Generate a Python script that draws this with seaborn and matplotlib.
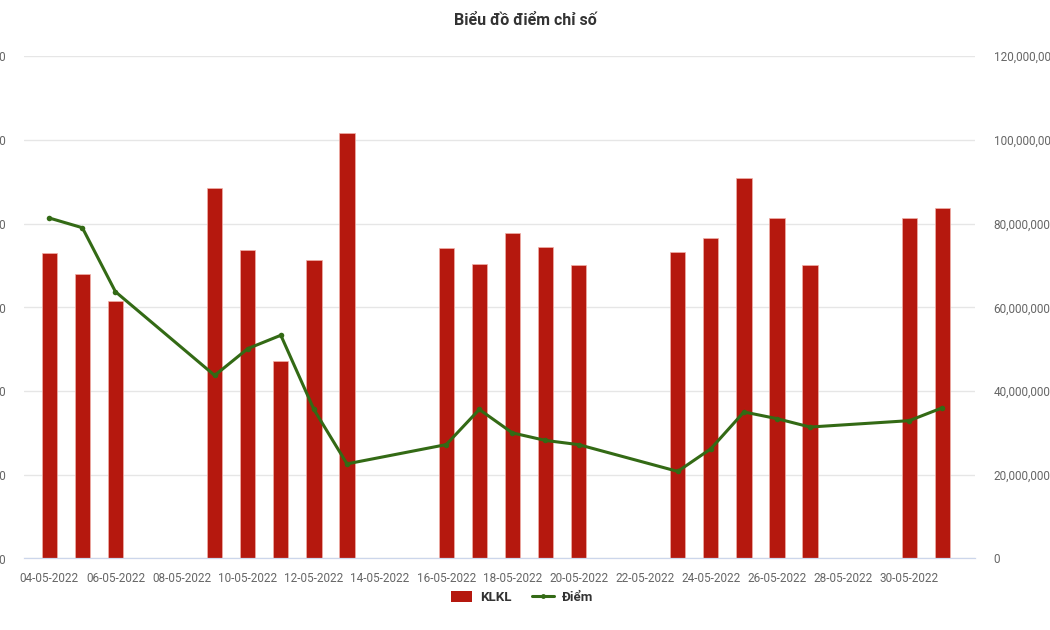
import matplotlib
matplotlib.use("Agg")
import matplotlib.pyplot as plt
import matplotlib.dates as mdates
from matplotlib.ticker import FuncFormatter
from matplotlib.lines import Line2D
from matplotlib.patches import Patch
import pandas as pd
import seaborn as sns

# Data
dates = ['04-05-2022', '05-05-2022', '06-05-2022', '09-05-2022', '10-05-2022',
         '11-05-2022', '12-05-2022', '13-05-2022', '16-05-2022', '17-05-2022',
         '18-05-2022', '19-05-2022', '20-05-2022', '23-05-2022', '24-05-2022',
         '25-05-2022', '26-05-2022', '27-05-2022', '30-05-2022', '31-05-2022']
klkl = [72.9e6, 67.9e6, 61.5e6, 88.4e6, 73.7e6, 47.1e6, 71.3e6, 101.6e6, 74.1e6, 70.4e6,
        77.7e6, 74.4e6, 70.1e6, 73.1e6, 76.5e6, 90.9e6, 81.4e6, 70.1e6, 81.4e6, 83.8e6]
diem = [1303.3, 1297.5, 1259.3, 1209.3, 1225.3, 1233.3, 1189.0, 1156.5, 1168.0, 1189.0,
        1175.0, 1170.5, 1168.0, 1152.0, 1165.5, 1187.5, 1183.5, 1178.5, 1182.3, 1190.0]
xtick_labels = ['04-05-2022', '06-05-2022', '08-05-2022', '10-05-2022', '12-05-2022',
                '14-05-2022', '16-05-2022', '18-05-2022', '20-05-2022', '22-05-2022',
                '24-05-2022', '26-05-2022', '28-05-2022', '30-05-2022']
klkl_ticks = [0, 20e6, 40e6, 60e6, 80e6, 100e6, 120e6]
diem_ticks = [1100, 1150, 1200, 1250, 1300, 1350, 1400]

# Style
bar_color = '#b5180e'
line_color = '#336a15'
axis_color = '#ccd6eb'
grid_color = '#e6e6e6'
label_color = '#666666'
tick_fs = 8.5

sns.set_style('white')
plt.rcParams['font.family'] = ['Roboto', 'DejaVu Sans']

df = pd.DataFrame({'date': pd.to_datetime(dates, format='%d-%m-%Y'),
                   'KLKL': klkl, 'Diem': diem})
df['x'] = mdates.date2num(df['date'])
tick_pos = mdates.date2num(pd.to_datetime(xtick_labels, format='%d-%m-%Y'))

fig = plt.figure(figsize=(10.5, 6.3), dpi=100)
ax = fig.add_axes([0.023, 0.1135, 0.906, 0.7975])
ax2 = ax.twinx()

# Bars (volume) - right hand scale
sns.barplot(data=df, x='x', y='KLKL', native_scale=True, width=0.46,
            color=bar_color, saturation=1, errorbar=None,
            edgecolor='#f0b0a8', linewidth=0.5, ax=ax)
ax.set_ylim(0, 120e6)
ax.set_yticks(klkl_ticks)
ax.grid(axis='y', color=grid_color, linewidth=1)
ax.set_axisbelow(True)

# Line (index) - left hand scale
sns.lineplot(data=df, x='x', y='Diem', color=line_color, linewidth=2.2,
             marker='o', markersize=4, markeredgewidth=0, ax=ax2)
ax2.set_ylim(1100, 1400)
ax2.set_yticks(diem_ticks)
ax2.grid(False)

# swap sides: volume labels right, index labels left
ax.yaxis.tick_right()
ax2.yaxis.tick_left()
fmt = FuncFormatter(lambda v, p: '{:,.0f}'.format(v))
for a in (ax, ax2):
    a.yaxis.set_major_formatter(fmt)
    a.tick_params(axis='y', length=0, pad=13, labelsize=tick_fs, labelcolor=label_color)
    for s in ('top', 'left', 'right'):
        a.spines[s].set_visible(False)
    a.spines['bottom'].set_color(axis_color)
    a.set_xlabel('')
    a.set_ylabel('')

ax.set_xlim(df['x'].iloc[0] - 0.76, df['x'].iloc[-1] + 1.0)
ax.set_xticks(tick_pos)
ax.set_xticklabels(xtick_labels)
ax.tick_params(axis='x', length=7, width=1, color=axis_color, pad=3,
               labelsize=tick_fs, labelcolor=label_color)
ax2.tick_params(axis='x', length=0)

fig.text(0.5, 0.968, 'Biểu đồ điểm chỉ số', ha='center', va='center',
         fontsize=11.5, fontweight='bold', color='#333333')

handles = [Patch(facecolor=bar_color, edgecolor='none'),
           Line2D([0], [0], color=line_color, linewidth=2.2, marker='o',
                  markersize=3.5, markeredgewidth=0)]
leg = fig.legend(handles, ['KLKL', 'Điểm'], loc='center', ncol=2,
                 bbox_to_anchor=(0.497, 0.052), frameon=False, fontsize=9.5,
                 handlelength=1.6, handleheight=1.0, columnspacing=1.6, handletextpad=0.6)
for t in leg.get_texts():
    t.set_fontweight('bold')
    t.set_color('#333333')

plt.savefig('out.png', dpi=100)
